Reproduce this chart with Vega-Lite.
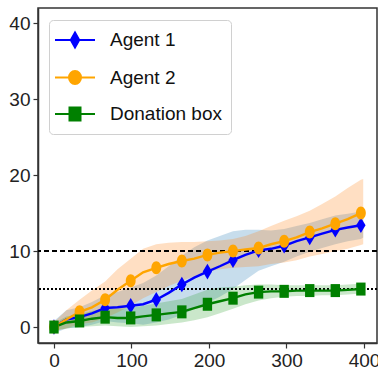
{
  "$schema": "https://vega.github.io/schema/vega-lite/v6.json",
  "width": 339,
  "height": 335,
  "autosize": "none",
  "padding": {"left": 38, "top": 8, "right": 1, "bottom": 34},
  "background": "white",
  "config": {
    "font": "Liberation Sans",
    "view": {"stroke": "#333", "strokeWidth": 1.5},
    "axis": {"grid": false, "title": null, "labelFont": "Liberation Sans", "labelFontSize": 19, "labelColor": "#222", "domainColor": "#333", "domainWidth": 1.5, "tickColor": "#333", "tickSize": 5, "tickWidth": 1.2, "labelPadding": 3}
  },
  "resolve": {"scale": {"color": "independent", "shape": "independent", "stroke": "independent", "fill": "independent"}},
  "data": {"values": [
    {"s": "Agent 1", "x": 0, "y": 0.0, "lo": -0.8, "hi": 0.8},
    {"s": "Agent 1", "x": 16, "y": 1.0, "lo": -0.2, "hi": 2.2},
    {"s": "Agent 1", "x": 33, "y": 1.3, "lo": 0.0, "hi": 2.6},
    {"s": "Agent 1", "x": 49, "y": 1.8, "lo": 0.3, "hi": 3.3},
    {"s": "Agent 1", "x": 66, "y": 2.5, "lo": 0.8, "hi": 4.2},
    {"s": "Agent 1", "x": 82, "y": 2.6, "lo": 0.6, "hi": 4.6},
    {"s": "Agent 1", "x": 99, "y": 2.8, "lo": 0.5, "hi": 5.2},
    {"s": "Agent 1", "x": 115, "y": 3.0, "lo": 0.3, "hi": 5.8},
    {"s": "Agent 1", "x": 132, "y": 3.6, "lo": 0.6, "hi": 6.8},
    {"s": "Agent 1", "x": 148, "y": 4.5, "lo": 1.0, "hi": 8.0},
    {"s": "Agent 1", "x": 165, "y": 5.6, "lo": 1.6, "hi": 9.4},
    {"s": "Agent 1", "x": 181, "y": 6.5, "lo": 2.4, "hi": 10.5},
    {"s": "Agent 1", "x": 198, "y": 7.3, "lo": 3.2, "hi": 11.4},
    {"s": "Agent 1", "x": 214, "y": 8.0, "lo": 4.0, "hi": 12.0},
    {"s": "Agent 1", "x": 231, "y": 8.8, "lo": 5.0, "hi": 12.6},
    {"s": "Agent 1", "x": 247, "y": 9.5, "lo": 6.2, "hi": 12.8},
    {"s": "Agent 1", "x": 264, "y": 10.1, "lo": 7.4, "hi": 12.8},
    {"s": "Agent 1", "x": 280, "y": 10.3, "lo": 8.0, "hi": 12.7},
    {"s": "Agent 1", "x": 297, "y": 10.7, "lo": 8.6, "hi": 12.9},
    {"s": "Agent 1", "x": 313, "y": 11.3, "lo": 9.3, "hi": 13.3},
    {"s": "Agent 1", "x": 330, "y": 11.8, "lo": 9.9, "hi": 13.7},
    {"s": "Agent 1", "x": 346, "y": 12.3, "lo": 10.4, "hi": 14.2},
    {"s": "Agent 1", "x": 363, "y": 12.8, "lo": 10.9, "hi": 14.7},
    {"s": "Agent 1", "x": 379, "y": 13.1, "lo": 11.3, "hi": 14.9},
    {"s": "Agent 1", "x": 396, "y": 13.4, "lo": 11.6, "hi": 15.2},
    {"s": "Agent 1", "x": 399, "y": 13.6, "lo": 11.8, "hi": 15.4},
    {"s": "Agent 2", "x": 0, "y": 0.0, "lo": -0.5, "hi": 0.6},
    {"s": "Agent 2", "x": 16, "y": 1.0, "lo": -0.2, "hi": 2.2},
    {"s": "Agent 2", "x": 33, "y": 2.0, "lo": 0.4, "hi": 3.6},
    {"s": "Agent 2", "x": 49, "y": 2.6, "lo": 0.6, "hi": 4.8},
    {"s": "Agent 2", "x": 66, "y": 3.6, "lo": 1.2, "hi": 6.0},
    {"s": "Agent 2", "x": 82, "y": 4.9, "lo": 1.9, "hi": 7.6},
    {"s": "Agent 2", "x": 99, "y": 6.1, "lo": 2.8, "hi": 9.0},
    {"s": "Agent 2", "x": 115, "y": 7.2, "lo": 3.8, "hi": 10.3},
    {"s": "Agent 2", "x": 132, "y": 7.8, "lo": 4.6, "hi": 10.9},
    {"s": "Agent 2", "x": 148, "y": 8.3, "lo": 5.4, "hi": 11.1},
    {"s": "Agent 2", "x": 165, "y": 8.7, "lo": 6.1, "hi": 11.2},
    {"s": "Agent 2", "x": 181, "y": 9.0, "lo": 6.7, "hi": 11.2},
    {"s": "Agent 2", "x": 198, "y": 9.5, "lo": 7.3, "hi": 11.3},
    {"s": "Agent 2", "x": 214, "y": 9.8, "lo": 7.6, "hi": 11.4},
    {"s": "Agent 2", "x": 231, "y": 10.0, "lo": 7.8, "hi": 11.6},
    {"s": "Agent 2", "x": 247, "y": 10.2, "lo": 7.9, "hi": 12.0},
    {"s": "Agent 2", "x": 264, "y": 10.4, "lo": 8.0, "hi": 12.6},
    {"s": "Agent 2", "x": 280, "y": 10.9, "lo": 8.3, "hi": 13.3},
    {"s": "Agent 2", "x": 297, "y": 11.3, "lo": 8.5, "hi": 14.0},
    {"s": "Agent 2", "x": 313, "y": 11.8, "lo": 8.8, "hi": 14.6},
    {"s": "Agent 2", "x": 330, "y": 12.5, "lo": 9.3, "hi": 15.3},
    {"s": "Agent 2", "x": 346, "y": 13.0, "lo": 9.6, "hi": 16.2},
    {"s": "Agent 2", "x": 363, "y": 13.6, "lo": 10.0, "hi": 17.2},
    {"s": "Agent 2", "x": 379, "y": 14.2, "lo": 10.3, "hi": 18.3},
    {"s": "Agent 2", "x": 396, "y": 15.0, "lo": 10.8, "hi": 19.4},
    {"s": "Agent 2", "x": 399, "y": 15.1, "lo": 10.9, "hi": 19.5},
    {"s": "Donation box", "x": 0, "y": 0.0, "lo": -0.5, "hi": 0.5},
    {"s": "Donation box", "x": 16, "y": 0.6, "lo": -0.2, "hi": 1.4},
    {"s": "Donation box", "x": 33, "y": 0.8, "lo": 0.0, "hi": 1.7},
    {"s": "Donation box", "x": 49, "y": 1.1, "lo": 0.1, "hi": 2.1},
    {"s": "Donation box", "x": 66, "y": 1.3, "lo": 0.2, "hi": 2.4},
    {"s": "Donation box", "x": 82, "y": 1.2, "lo": 0.1, "hi": 2.4},
    {"s": "Donation box", "x": 99, "y": 1.2, "lo": 0.0, "hi": 2.5},
    {"s": "Donation box", "x": 115, "y": 1.4, "lo": 0.1, "hi": 2.8},
    {"s": "Donation box", "x": 132, "y": 1.6, "lo": 0.2, "hi": 3.1},
    {"s": "Donation box", "x": 148, "y": 1.8, "lo": 0.4, "hi": 3.4},
    {"s": "Donation box", "x": 165, "y": 2.0, "lo": 0.6, "hi": 3.7},
    {"s": "Donation box", "x": 181, "y": 2.5, "lo": 0.9, "hi": 4.3},
    {"s": "Donation box", "x": 198, "y": 3.0, "lo": 1.3, "hi": 4.9},
    {"s": "Donation box", "x": 214, "y": 3.4, "lo": 1.8, "hi": 5.2},
    {"s": "Donation box", "x": 231, "y": 3.8, "lo": 2.4, "hi": 5.3},
    {"s": "Donation box", "x": 247, "y": 4.3, "lo": 3.0, "hi": 5.5},
    {"s": "Donation box", "x": 264, "y": 4.6, "lo": 3.5, "hi": 5.6},
    {"s": "Donation box", "x": 280, "y": 4.7, "lo": 3.8, "hi": 5.6},
    {"s": "Donation box", "x": 297, "y": 4.7, "lo": 4.0, "hi": 5.5},
    {"s": "Donation box", "x": 313, "y": 4.8, "lo": 4.1, "hi": 5.5},
    {"s": "Donation box", "x": 330, "y": 4.8, "lo": 4.1, "hi": 5.5},
    {"s": "Donation box", "x": 346, "y": 4.8, "lo": 4.2, "hi": 5.5},
    {"s": "Donation box", "x": 363, "y": 4.8, "lo": 4.2, "hi": 5.5},
    {"s": "Donation box", "x": 379, "y": 4.9, "lo": 4.3, "hi": 5.6},
    {"s": "Donation box", "x": 396, "y": 5.0, "lo": 4.4, "hi": 5.7},
    {"s": "Donation box", "x": 399, "y": 5.0, "lo": 4.4, "hi": 5.7}
  ]},
  "layer": [
    {
      "mark": {"type": "area", "opacity": 0.25},
      "encoding": {
        "x": {"field": "x", "type": "quantitative", "scale": {"domain": [-20.6, 416.8], "nice": false, "zero": false}, "axis": {"values": [0, 100, 200, 300, 400]}},
        "y": {"field": "lo", "type": "quantitative", "scale": {"domain": [-2.1, 42], "nice": false, "zero": false}, "axis": {"values": [0, 10, 20, 30, 40]}},
        "y2": {"field": "hi"},
        "fill": {"field": "s", "type": "nominal", "scale": {"domain": ["Agent 1", "Agent 2", "Donation box"], "range": ["#1f77b4", "#ff7f0e", "#2ca02c"]}, "legend": null}
      }
    },
    {
      "data": {"values": [{"v": 10}]},
      "mark": {"type": "rule", "color": "black", "strokeWidth": 2, "strokeDash": [5, 3]},
      "encoding": {"y": {"field": "v", "type": "quantitative"}}
    },
    {
      "data": {"values": [{"v": 5}]},
      "mark": {"type": "rule", "color": "black", "strokeWidth": 2, "strokeDash": [2, 2]},
      "encoding": {"y": {"field": "v", "type": "quantitative"}}
    },
    {
      "mark": {"type": "line", "strokeWidth": 2.4},
      "encoding": {
        "x": {"field": "x", "type": "quantitative"},
        "y": {"field": "y", "type": "quantitative"},
        "color": {"field": "s", "type": "nominal", "scale": {"domain": ["Agent 1", "Agent 2", "Donation box"], "range": ["#0000ff", "#ffa500", "#008000"]}, "legend": null}
      }
    },
    {
      "transform": [{"filter": "datum.x % 33 === 0"}],
      "mark": {"type": "point", "filled": true, "opacity": 1, "size": 169},
      "encoding": {
        "x": {"field": "x", "type": "quantitative"},
        "y": {"field": "y", "type": "quantitative"},
        "color": {"field": "s", "type": "nominal", "scale": {"domain": ["Agent 1", "Agent 2", "Donation box"], "range": ["#0000ff", "#ffa500", "#008000"]}, "legend": null},
        "shape": {"field": "s", "type": "nominal", "scale": {"domain": ["Agent 1", "Agent 2", "Donation box"], "range": ["M0,-1.2L0.72,0L0,1.2L-0.72,0Z", "M-0.76,0A0.76,1 0 1,0 0.76,0A0.76,1 0 1,0 -0.76,0Z", "M-0.72,-1H0.72V1H-0.72Z"]}, "legend": null}
      }
    },
    {
      "transform": [{"filter": "datum.x < -1000"}],
      "mark": {"type": "point", "filled": true, "opacity": 1, "size": 400, "strokeWidth": 2},
      "encoding": {
        "x": {"field": "x", "type": "quantitative"},
        "y": {"field": "y", "type": "quantitative"},
        "color": {"field": "s", "type": "nominal", "scale": {"domain": ["Agent 1", "Agent 2", "Donation box"], "range": ["#0000ff", "#ffa500", "#008000"]},
          "legend": {
            "title": null, "orient": "none", "legendX": 11, "legendY": 12,
            "labelFontSize": 19, "labelFont": "Liberation Sans", "labelColor": "#111",
            "symbolSize": 400, "symbolStrokeWidth": 2, "padding": 9, "rowPadding": 14.5,
            "symbolOffset": 6, "labelOffset": 24, "strokeColor": "#d0d0d0", "cornerRadius": 4, "fillColor": "white"
          }
        },
        "stroke": {"field": "s", "type": "nominal", "scale": {"domain": ["Agent 1", "Agent 2", "Donation box"], "range": ["#0000ff", "#ffa500", "#008000"]}},
        "shape": {"field": "s", "type": "nominal", "scale": {"domain": ["Agent 1", "Agent 2", "Donation box"], "range": ["M-2,0H2M0,-0.75L0.42,0L0,0.75L-0.42,0Z", "M-2,0H2M-0.6,0A0.6,0.65 0 1,0 0.6,0A0.6,0.65 0 1,0 -0.6,0Z", "M-2,0H2M-0.55,-0.65H0.55V0.65H-0.55Z"]}}
      }
    }
  ]
}
